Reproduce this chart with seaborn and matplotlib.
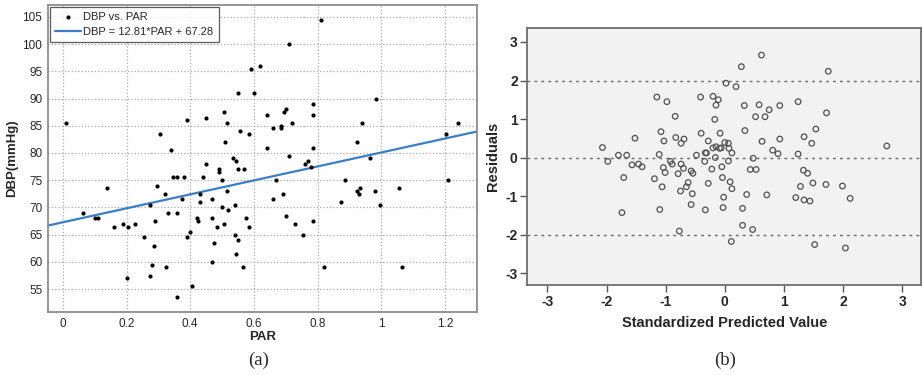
import numpy as np
import pandas as pd
import matplotlib
matplotlib.use("Agg")
import matplotlib.pyplot as plt
import seaborn as sns

# ----------------------------
# DATA
# ----------------------------
par = [0.01, 0.81, 0.71, 0.59, 0.62, 0.55, 0.60, 0.985, 0.785, 0.39,
       0.45, 0.505, 0.64, 0.695, 0.70, 0.785, 0.305, 0.515, 0.555, 0.585,
       0.66, 0.685, 0.685, 0.72, 0.94, 1.24, 1.205, 0.34, 0.51, 0.64,
       0.785, 0.925, 0.535, 0.545, 0.71, 0.965, 0.45, 0.76, 0.77, 0.78,
       0.49, 0.49, 0.55, 0.57,
       0.345, 0.36, 0.38, 0.44, 0.50, 0.67, 0.885, 1.21,
       0.063, 0.10, 0.11, 0.14, 0.16, 0.19, 0.20, 0.205, 0.225, 0.255,
       0.275, 0.275, 0.28, 0.285, 0.29, 0.295, 0.32, 0.325, 0.33, 0.36,
       0.36, 0.375, 0.39, 0.40, 0.405, 0.42, 0.425, 0.43, 0.43, 0.47,
       0.47, 0.475, 0.47, 0.485, 0.50, 0.505, 0.515, 0.52, 0.54, 0.54,
       0.545, 0.55, 0.565, 0.575, 0.585, 0.66, 0.69, 0.70, 0.73, 0.755,
       0.785, 0.82, 0.875, 0.925, 0.93, 0.935, 0.98, 0.995, 1.055, 1.065]
dbp = [85.5, 104.5, 100.0, 95.5, 96.0, 91.0, 91.0, 90.0, 89.0, 86.0,
       86.5, 87.5, 87.0, 87.5, 88.0, 87.0, 83.5, 85.5, 84.0, 83.5,
       84.5, 84.5, 85.0, 85.5, 85.5, 85.5, 83.5, 80.5, 82.0, 81.0,
       81.0, 82.0, 79.0, 78.5, 79.5, 79.0, 78.0, 78.0, 78.5, 77.5,
       76.5, 77.0, 77.0, 77.0,
       75.5, 75.5, 75.5, 75.5, 75.0, 75.0, 75.0, 75.0,
       69.0, 68.0, 68.0, 73.5, 66.5, 67.0, 57.0, 66.5, 67.0, 64.5,
       70.5, 57.5, 59.5, 63.0, 67.5, 74.0, 72.5, 59.0, 69.0, 53.5,
       69.0, 71.5, 64.5, 65.5, 55.5, 68.0, 67.5, 71.0, 72.5, 71.5,
       68.0, 63.5, 60.0, 66.5, 70.0, 67.0, 73.0, 69.5, 70.5, 65.0,
       61.5, 64.0, 59.0, 68.0, 66.5, 71.5, 72.5, 68.5, 67.0, 65.0,
       67.5, 59.0, 71.0, 73.0, 72.5, 73.5, 73.0, 70.5, 73.5, 59.0]
fit_slope = 12.81
fit_intercept = 67.28

spv = [-2.07, -1.98, -1.80, -1.66, -1.57, -1.46, -1.40, -1.52, -1.71, -1.19,
       -1.15, -0.98, -1.11, -1.08, -1.03, -1.04, -1.01, -0.92, -0.89, -0.84,
       -0.83, -0.74, -0.69, -0.74, -0.70, -0.79, -0.57, -0.54, -0.48, -0.41,
       -0.40, -0.28, -0.34, -0.33, -0.31, -0.22, -0.20, -0.11, -0.15, 0.02,
       -0.17, -0.20, -0.15, -0.09, -0.06, -0.08, 0.00, 0.06, -0.16, 0.07,
       0.12, 0.06, -0.05, 0.19, 0.28, 0.33, 0.34, 0.52, 0.58, 0.62,
       0.68, 0.75, 0.63, 0.93, 0.93, 0.81, 0.90, 0.48, 0.43, 0.53,
       1.24, 1.24, 1.34, 1.47, 1.54, 1.72, 1.75, 1.33, 1.40, 2.74,
       -1.74, -1.10, -1.06, -0.75, -0.65, -0.62, -0.55, -0.57, -0.77, -0.33,
       -0.28, -0.04, -0.02, -0.03, 0.09, 0.12, 0.11, 0.30, 0.30, 0.37,
       0.47, 0.71, 1.20, 1.28, 1.34, 1.44, 1.49, 1.71, 1.52, 1.99,
       2.04, 2.12]
resid = [0.26, -0.10, 0.06, 0.06, -0.19, -0.17, -0.24, 0.50, -0.52, -0.55,
         1.57, 1.45, 0.08, 0.67, 0.43, -0.26, -0.39, -0.10, -0.17, 1.07,
         0.52, 0.37, 0.48, -0.17, -0.28, -0.42, -0.35, -0.41, 0.06, 1.57,
         0.63, 0.43, -0.10, 0.12, 0.12, -0.30, 1.59, 1.50, 1.36, 1.93,
         0.99, 0.25, 0.28, 0.24, 0.25, 0.63, 0.39, 0.37, 0.00, 0.24,
         0.12, -0.09, -0.24, 1.84, 2.36, 1.35, 0.70, 1.06, 1.37, 2.66,
         1.06, 1.24, 0.42, 1.35, 0.48, 0.19, 0.10, -0.02, -0.31, -0.31,
         1.45, 0.09, 0.54, 0.37, 0.74, 1.16, 2.24, -0.33, -0.41, 0.30,
         -1.43, -1.35, -0.76, -0.87, -0.76, -0.65, -0.94, -1.22, -1.91, -1.36,
         -0.67, -0.52, -1.03, -1.30, -0.63, -0.81, -2.18, -1.32, -1.76, -0.96,
         -1.87, -0.97, -1.04, -0.75, -1.10, -1.13, -0.66, -0.70, -2.26, -0.74,
         -2.35, -1.06]
ref_lines = [-2, 0, 2]

# ----------------------------
# STYLE
# ----------------------------
sns.set_style("white")
plt.rcParams['font.family'] = ['Liberation Sans', 'DejaVu Sans']
plt.rcParams['axes.unicode_minus'] = False

fig = plt.figure(figsize=(9.22, 3.75), dpi=100)

# ----------------------------
# (a) DBP vs PAR
# ----------------------------
ax1 = fig.add_axes([0.052, 0.168, 0.465, 0.819])
df1 = pd.DataFrame({"PAR": par, "DBP": dbp})
sns.scatterplot(data=df1, x="PAR", y="DBP", ax=ax1, color="black", s=9,
                linewidth=0, label="DBP vs. PAR", zorder=3)
ax1.set_xlim(-0.047, 1.30)
ax1.set_ylim(50.8, 107.2)
xs = np.array(ax1.get_xlim())
sns.lineplot(x=xs, y=fit_slope * xs + fit_intercept, ax=ax1, color="#3a7ec6",
             linewidth=1.6, label=f"DBP = {fit_slope}*PAR + {fit_intercept}",
             zorder=2)
ax1.set_xticks([0, 0.2, 0.4, 0.6, 0.8, 1.0, 1.2])
ax1.set_xticklabels(["0", "0.2", "0.4", "0.6", "0.8", "1", "1.2"])
ax1.set_yticks(range(55, 106, 5))
ax1.grid(True, linestyle=":", color="#a8a8a8", linewidth=0.9)
ax1.tick_params(labelsize=8.5, length=0, pad=4)
ax1.set_xlabel("PAR", fontsize=9.5, fontweight="bold", labelpad=1)
ax1.set_ylabel("DBP(mmHg)", fontsize=9.5, fontweight="bold", labelpad=3)
for sp in ax1.spines.values():
    sp.set_color("#8c8c8c")
    sp.set_linewidth(1.3)
leg = ax1.legend(loc="upper left", fontsize=8, frameon=True, fancybox=False,
                 edgecolor="#333333", borderaxespad=0.15, handlelength=2.4,
                 borderpad=0.45, labelspacing=0.5, handletextpad=0.2)
leg.get_frame().set_linewidth(0.9)

# ----------------------------
# (b) Residuals vs Standardized Predicted Value
# ----------------------------
ax2 = fig.add_axes([0.572, 0.24, 0.427, 0.685])
ax2.set_facecolor("#f2f2f2")
for r in ref_lines:
    ax2.axhline(r, color="#666666", linewidth=1.0, linestyle=(0, (2, 3)), zorder=1)
df2 = pd.DataFrame({"spv": spv, "resid": resid})
sns.scatterplot(data=df2, x="spv", y="resid", ax=ax2, marker="o", s=16,
                facecolor="none", edgecolor="#505050", linewidth=0.9, zorder=3)
ax2.set_xlim(-3.34, 3.32)
ax2.set_ylim(-3.31, 3.36)
ax2.set_xticks(range(-3, 4))
ax2.set_yticks(range(-3, 4))
ax2.tick_params(labelsize=10, length=5, width=1, color="#555555", direction="out",
                pad=2, bottom=True, left=True)
for lab in ax2.get_xticklabels() + ax2.get_yticklabels():
    lab.set_fontweight("bold")
ax2.set_xlabel("Standardized Predicted Value", fontsize=10.5, fontweight="bold",
               labelpad=5)
ax2.set_ylabel("Residuals", fontsize=10.5, fontweight="bold", labelpad=4)
for sp in ax2.spines.values():
    sp.set_color("#6e6e6e")
    sp.set_linewidth(1.3)

# ----------------------------
# CAPTIONS
# ----------------------------
fig.text(0.280, 0.040, "(a)", fontsize=13.5, ha="center", va="center",
         family=["Liberation Serif", "DejaVu Serif"])
fig.text(0.786, 0.040, "(b)", fontsize=13.5, ha="center", va="center",
         family=["Liberation Serif", "DejaVu Serif"])

fig.savefig("out.png", dpi=100)
plt.close(fig)
